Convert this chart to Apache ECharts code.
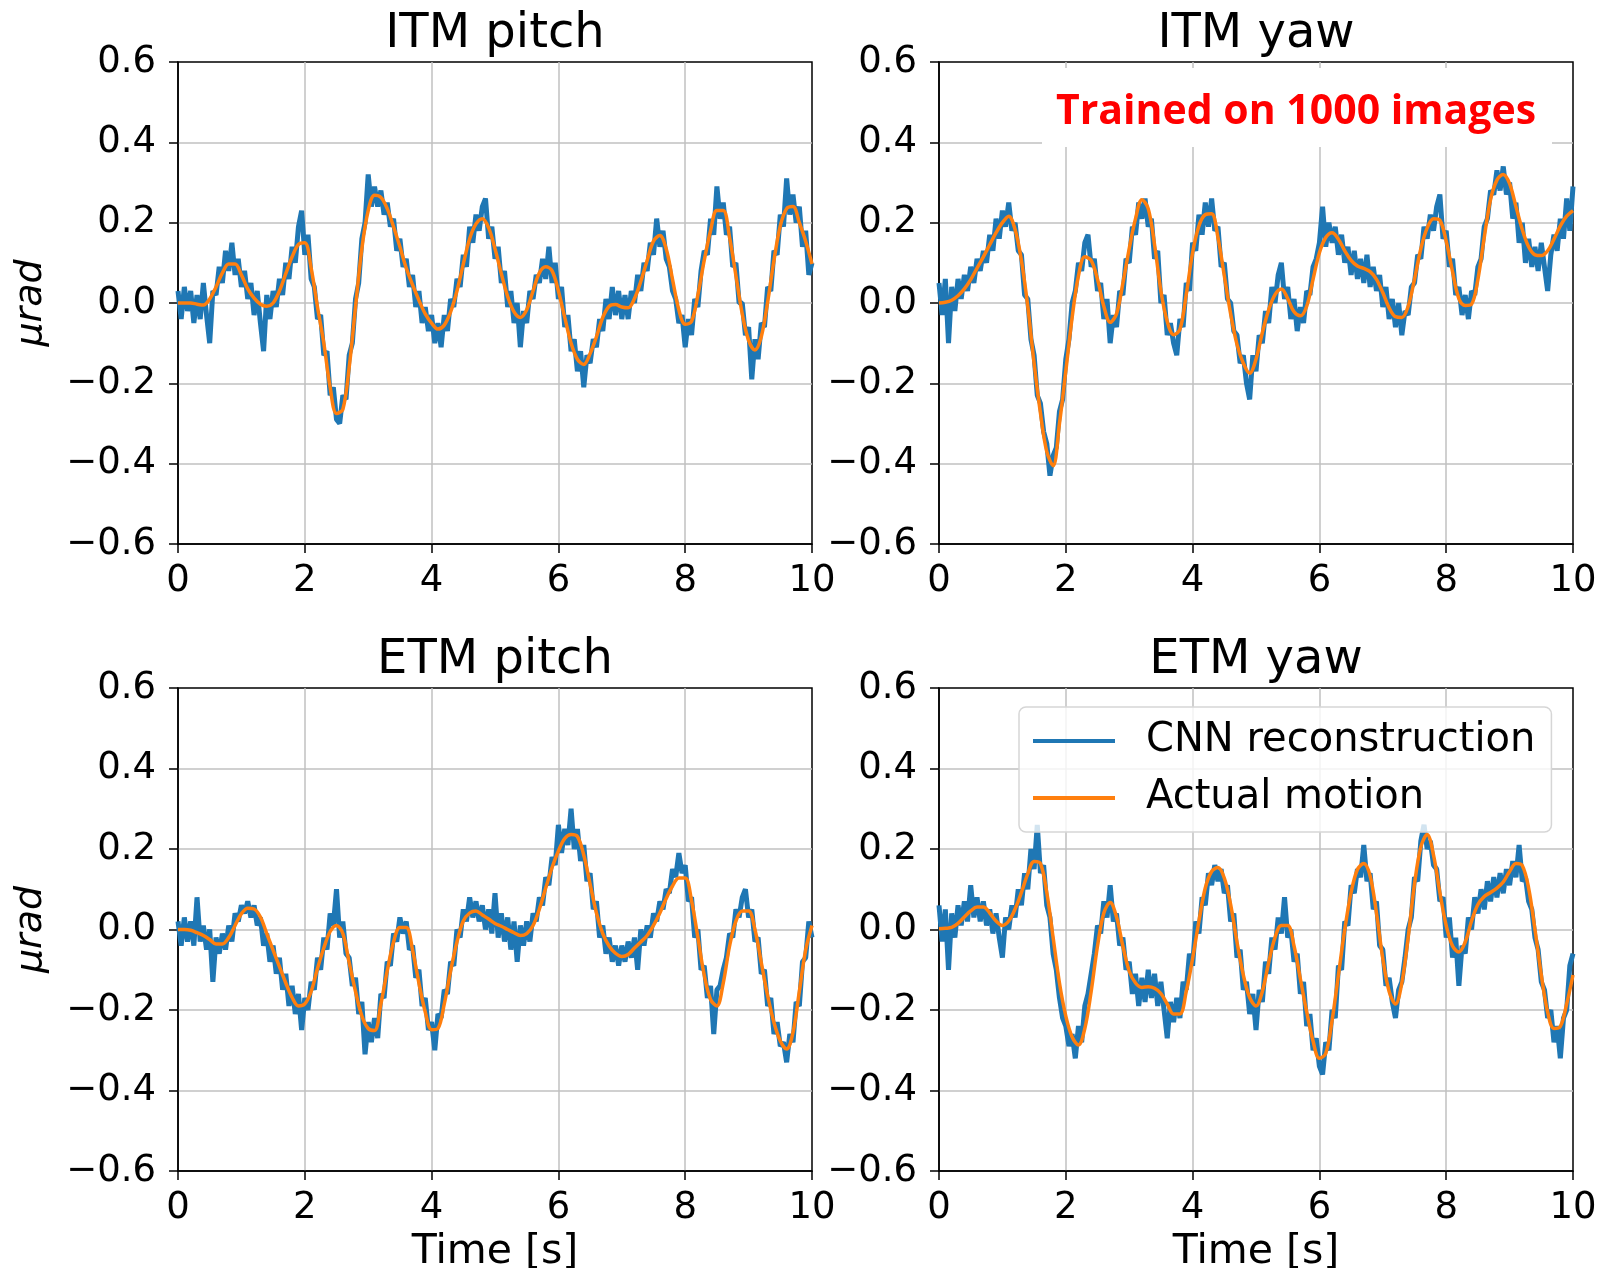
<!DOCTYPE html>
<html><head><meta charset="utf-8">
<script src="https://cdn.jsdelivr.net/npm/echarts@6/dist/echarts.min.js"></script>
<style>html,body{margin:0;padding:0;background:#fff}#c{width:1607px;height:1268px}</style>
</head><body><div id="c"></div>
<script>
// ---------- data ----------
const panelTitles = ['ITM pitch', 'ITM yaw', 'ETM pitch', 'ETM yaw'];
const seriesNames = ['CNN reconstruction', 'Actual motion'];
const yAxisName = 'μrad';
const xAxisName = 'Time [s]';
const annotationText = 'Trained on 1000 images';
const xTickValues = [0, 2, 4, 6, 8, 10];
const yTickLabels = ['\u22120.6', '\u22120.4', '\u22120.2', '0.0', '0.2', '0.4', '0.6'];
const actualStep = 0.1;   // s between samples of the actual motion
const cnnStep = 0.05;     // s between samples of the CNN reconstruction

const itmPitchActual = [0.000,0.000,0.000,-0.003,-0.005,0.010,0.040,0.075,0.097,0.097,
 0.070,0.035,0.012,-0.003,-0.008,0.000,0.030,0.073,0.115,0.146,
 0.150,0.087,-0.010,-0.100,-0.210,-0.275,-0.265,-0.160,-0.010,0.135,
 0.230,0.268,0.263,0.235,0.190,0.140,0.087,0.045,0.007,-0.027,
 -0.050,-0.065,-0.055,-0.022,0.030,0.097,0.160,0.197,0.210,0.187,
 0.135,0.073,0.016,-0.022,-0.036,-0.017,0.030,0.075,0.090,0.080,
 0.030,-0.036,-0.100,-0.140,-0.153,-0.126,-0.084,-0.036,-0.008,-0.004,
 -0.010,-0.012,0.011,0.054,0.106,0.154,0.168,0.135,0.059,-0.017,
 -0.053,-0.046,0.020,0.106,0.180,0.230,0.230,0.163,0.068,-0.027,
 -0.093,-0.117,-0.084,0.002,0.106,0.192,0.235,0.240,0.200,0.154,
 0.097];
const itmPitchCnn = [0.03,-0.04,0.04,-0.02,0.03,-0.05,0.02,-0.04,0.05,-0.03,-0.10,0.03,0.02,0.09,0.05,0.13,0.08,0.15,0.07,0.11,
 0.04,0.08,0.01,0.05,-0.03,0.03,-0.05,-0.12,0.02,-0.04,0.03,-0.01,0.06,0.02,0.10,0.06,0.14,0.10,0.19,0.23,
 0.12,0.17,0.06,0.04,-0.04,-0.03,-0.13,-0.12,-0.23,-0.21,-0.29,-0.30,-0.23,-0.24,-0.13,-0.10,0.01,0.05,0.16,0.20,
 0.32,0.24,0.29,0.24,0.28,0.22,0.25,0.19,0.21,0.13,0.16,0.09,0.11,0.04,0.07,-0.01,0.03,-0.05,-0.01,-0.07,
 -0.03,-0.10,-0.05,-0.11,-0.03,-0.07,0.01,-0.01,0.06,0.04,0.12,0.09,0.19,0.15,0.22,0.18,0.24,0.26,0.16,0.19,
 0.11,0.14,0.05,0.08,-0.01,0.03,-0.05,0.00,-0.11,-0.02,-0.05,0.03,0.01,0.07,0.05,0.11,0.06,0.14,0.05,0.10,
 0.01,0.04,-0.06,-0.03,-0.12,-0.09,-0.17,-0.12,-0.21,-0.13,-0.15,-0.09,-0.11,-0.04,-0.07,0.01,-0.04,0.04,-0.03,0.03,
 -0.04,0.02,-0.04,0.03,0.00,0.07,0.03,0.10,0.08,0.15,0.12,0.21,0.14,0.18,0.11,0.09,0.03,0.01,-0.05,-0.03,
 -0.11,-0.04,-0.08,0.01,-0.01,0.08,0.13,0.12,0.21,0.17,0.29,0.21,0.25,0.17,0.19,0.09,0.10,0.00,0.00,-0.08,
 -0.06,-0.19,-0.09,-0.14,-0.05,-0.06,0.04,0.03,0.13,0.12,0.22,0.19,0.31,0.22,0.27,0.20,0.24,0.14,0.18,0.07,
 0.10];

const itmYawActual = [0.000,0.002,0.007,0.018,0.035,0.058,0.087,0.115,0.145,0.175,
 0.200,0.216,0.183,0.106,-0.008,-0.150,-0.274,-0.370,-0.405,-0.300,
 -0.170,-0.036,0.068,0.115,0.106,0.059,-0.008,-0.048,-0.027,0.049,
 0.135,0.210,0.257,0.235,0.145,0.030,-0.046,-0.079,-0.066,0.021,
 0.125,0.192,0.220,0.222,0.163,0.068,-0.027,-0.103,-0.150,-0.175,
 -0.140,-0.074,-0.017,0.021,0.035,0.011,-0.022,-0.032,-0.008,0.059,
 0.125,0.163,0.175,0.159,0.130,0.106,0.092,0.086,0.078,0.059,
 0.026,-0.012,-0.034,-0.036,-0.008,0.059,0.135,0.187,0.210,0.206,
 0.154,0.078,0.011,-0.006,-0.003,0.059,0.163,0.258,0.306,0.320,
 0.297,0.240,0.183,0.140,0.120,0.118,0.130,0.159,0.192,0.216,
 0.230];
const itmYawCnn = [0.05,-0.03,0.06,-0.10,0.04,-0.02,0.06,0.01,0.07,0.03,0.09,0.05,0.11,0.08,0.13,0.10,0.17,0.13,0.21,0.16,
 0.23,0.19,0.25,0.18,0.20,0.13,0.12,0.02,0.01,-0.09,-0.13,-0.23,-0.25,-0.32,-0.35,-0.43,-0.38,-0.36,-0.27,-0.24,
 -0.14,-0.09,0.00,0.03,0.10,0.08,0.15,0.17,0.09,0.11,0.03,0.05,-0.04,0.01,-0.10,-0.03,-0.06,0.03,0.02,0.11,
 0.10,0.19,0.17,0.25,0.21,0.26,0.19,0.21,0.11,0.13,0.00,0.02,-0.08,-0.05,-0.10,-0.13,-0.04,-0.06,0.05,0.03,
 0.15,0.13,0.22,0.17,0.25,0.19,0.26,0.18,0.19,0.09,0.10,0.01,0.00,-0.07,-0.08,-0.15,-0.13,-0.20,-0.24,-0.13,
 -0.17,-0.08,-0.10,-0.02,-0.05,0.04,0.00,0.07,0.10,0.01,0.04,-0.04,0.01,-0.07,-0.01,-0.05,0.03,0.02,0.09,0.11,
 0.15,0.24,0.14,0.20,0.15,0.19,0.12,0.17,0.10,0.14,0.07,0.13,0.06,0.11,0.05,0.12,0.04,0.09,0.03,0.07,
 -0.01,0.04,-0.04,0.01,-0.06,0.00,-0.08,-0.02,-0.03,0.04,0.05,0.12,0.11,0.19,0.16,0.22,0.18,0.24,0.27,0.16,
 0.18,0.09,0.11,0.02,0.04,-0.03,0.02,-0.04,0.03,0.02,0.09,0.11,0.19,0.21,0.28,0.27,0.33,0.28,0.34,0.27,
 0.30,0.21,0.25,0.15,0.20,0.10,0.16,0.09,0.14,0.08,0.15,0.09,0.03,0.12,0.17,0.13,0.21,0.16,0.26,0.18,
 0.29];

const etmPitchActual = [0.000,0.000,-0.002,-0.008,-0.015,-0.025,-0.036,-0.036,-0.020,0.010,
 0.039,0.053,0.051,0.031,-0.010,-0.051,-0.092,-0.133,-0.169,-0.190,
 -0.185,-0.154,-0.097,-0.046,-0.005,0.010,-0.010,-0.082,-0.154,-0.215,
 -0.246,-0.251,-0.185,-0.103,-0.031,0.005,0.005,-0.051,-0.133,-0.205,
 -0.249,-0.246,-0.185,-0.103,-0.031,0.021,0.041,0.046,0.036,0.026,
 0.015,0.008,0.000,-0.008,-0.015,-0.010,0.010,0.051,0.103,0.154,
 0.195,0.226,0.236,0.231,0.185,0.113,0.041,-0.010,-0.041,-0.059,
 -0.067,-0.062,-0.046,-0.031,-0.015,0.010,0.041,0.077,0.108,0.128,
 0.128,0.072,-0.020,-0.113,-0.174,-0.190,-0.133,-0.041,0.021,0.046,
 0.046,0.000,-0.082,-0.164,-0.231,-0.277,-0.297,-0.256,-0.154,-0.051,
 0.010];
const etmPitchCnn = [0.02,-0.04,0.03,-0.03,0.02,-0.04,0.08,-0.03,0.01,-0.05,0.00,-0.13,-0.02,-0.06,-0.01,-0.05,0.01,-0.03,0.04,0.02,
 0.06,0.04,0.07,0.03,0.06,0.01,0.03,-0.04,-0.01,-0.08,-0.04,-0.11,-0.07,-0.15,-0.11,-0.19,-0.14,-0.21,-0.16,-0.25,
 -0.17,-0.20,-0.13,-0.15,-0.07,-0.10,-0.02,-0.05,0.04,0.01,0.10,-0.02,0.02,-0.06,-0.07,-0.14,-0.12,-0.21,-0.18,-0.31,
 -0.23,-0.28,-0.22,-0.27,-0.16,-0.17,-0.08,-0.09,-0.01,-0.03,0.03,-0.01,0.02,-0.05,-0.04,-0.12,-0.10,-0.19,-0.17,-0.25,
 -0.23,-0.30,-0.21,-0.22,-0.15,-0.16,-0.08,-0.09,0.00,-0.02,0.05,0.02,0.08,0.03,0.07,0.02,0.06,0.00,0.05,-0.01,
 0.09,-0.02,0.04,-0.03,0.03,-0.05,0.02,-0.08,0.01,-0.04,0.02,-0.03,0.04,0.02,0.08,0.06,0.13,0.11,0.18,0.16,
 0.26,0.19,0.25,0.21,0.30,0.20,0.25,0.17,0.21,0.12,0.14,0.05,0.07,-0.02,0.01,-0.06,-0.02,-0.08,-0.04,-0.09,
 -0.04,-0.08,-0.03,-0.07,-0.02,-0.10,0.00,-0.04,0.01,-0.02,0.04,0.02,0.07,0.05,0.10,0.09,0.15,0.13,0.19,0.14,
 0.16,0.07,0.08,-0.02,0.00,-0.10,-0.09,-0.17,-0.14,-0.26,-0.15,-0.14,-0.10,-0.07,-0.01,-0.02,0.05,0.03,0.08,0.10,
 0.03,0.05,-0.03,-0.02,-0.11,-0.10,-0.19,-0.17,-0.26,-0.23,-0.29,-0.28,-0.33,-0.26,-0.28,-0.18,-0.19,-0.08,-0.07,0.02,
 -0.02];

const etmYawActual = [0.002,0.003,0.005,0.015,0.031,0.046,0.056,0.056,0.041,0.021,
 0.010,0.021,0.051,0.092,0.138,0.169,0.164,0.092,-0.020,-0.133,
 -0.215,-0.267,-0.287,-0.246,-0.154,-0.041,0.041,0.067,0.031,-0.041,
 -0.103,-0.133,-0.144,-0.142,-0.146,-0.159,-0.185,-0.210,-0.210,-0.154,
 -0.072,0.021,0.103,0.144,0.154,0.128,0.062,-0.031,-0.113,-0.169,
 -0.190,-0.154,-0.082,-0.020,0.010,0.010,-0.041,-0.123,-0.205,-0.277,
 -0.320,-0.308,-0.226,-0.113,0.000,0.092,0.149,0.164,0.133,0.041,
 -0.072,-0.154,-0.185,-0.133,-0.020,0.113,0.205,0.236,0.185,0.092,
 0.010,-0.041,-0.056,-0.031,0.021,0.062,0.082,0.092,0.103,0.118,
 0.144,0.164,0.159,0.103,0.000,-0.113,-0.205,-0.246,-0.241,-0.185,
 -0.113];
const etmYawCnn = [0.06,-0.03,0.05,-0.10,0.04,-0.02,0.06,0.01,0.07,0.02,0.11,0.03,0.08,0.02,0.07,0.01,0.05,-0.01,0.04,-0.02,
 -0.07,0.03,0.00,0.06,0.03,0.10,0.06,0.14,0.10,0.20,0.15,0.26,0.14,0.16,0.06,0.03,-0.06,-0.10,-0.17,-0.22,
 -0.24,-0.29,-0.26,-0.32,-0.24,-0.28,-0.19,-0.16,-0.11,-0.06,0.01,-0.01,0.07,0.03,0.11,0.02,0.04,-0.04,-0.02,-0.10,
 -0.08,-0.16,-0.11,-0.19,-0.12,-0.18,-0.10,-0.17,-0.11,-0.19,-0.13,-0.20,-0.27,-0.18,-0.23,-0.17,-0.22,-0.13,-0.15,-0.06,
 -0.09,0.02,-0.01,0.08,0.06,0.14,0.11,0.16,0.12,0.15,0.09,0.11,0.02,0.04,-0.07,-0.05,-0.15,-0.13,-0.21,-0.16,
 -0.25,-0.15,-0.18,-0.08,-0.11,-0.02,-0.05,0.03,-0.01,0.08,-0.02,0.00,-0.08,-0.06,-0.16,-0.13,-0.24,-0.21,-0.30,-0.27,
 -0.34,-0.36,-0.28,-0.30,-0.20,-0.22,-0.09,-0.10,0.02,0.01,0.11,0.09,0.15,0.13,0.21,0.12,0.14,0.05,0.07,-0.04,
 -0.05,-0.14,-0.12,-0.18,-0.22,-0.15,-0.13,-0.07,0.00,0.03,0.13,0.12,0.22,0.26,0.20,0.22,0.16,0.15,0.07,0.08,
 -0.02,0.03,-0.07,-0.02,-0.14,-0.04,-0.06,0.03,0.00,0.08,0.04,0.10,0.05,0.12,0.07,0.13,0.08,0.14,0.09,0.15,
 0.11,0.17,0.13,0.21,0.12,0.13,0.07,0.05,-0.02,-0.05,-0.13,-0.15,-0.22,-0.20,-0.28,-0.24,-0.32,-0.22,-0.20,-0.09,
 -0.06];

// ---------- build ----------
const panels = [
  {cnn: itmPitchCnn, actual: itmPitchActual},
  {cnn: itmYawCnn, actual: itmYawActual},
  {cnn: etmPitchCnn, actual: etmPitchActual},
  {cnn: etmYawCnn, actual: etmYawActual}
];
function withTime(values, step) {
  return values.map((v, i) => [+(i * step).toFixed(2), v]);
}

const FONT = '"DejaVu Sans", sans-serif';
const BLUE = '#1f77b4', ORANGE = '#ff7f0e';
const gridBoxes = [
  {left: 178, top: 62, width: 634, height: 482},
  {left: 939, top: 62, width: 634, height: 482},
  {left: 178, top: 688, width: 634, height: 483},
  {left: 939, top: 688, width: 634, height: 483}
];
const titleCenters = [[495, 11], [1256, 11], [495, 637], [1256, 637]];

const option = {
  animation: false,
  backgroundColor: '#fff',
  title: panelTitles.map((t, i) => ({
    text: t, left: titleCenters[i][0], top: titleCenters[i][1], textAlign: 'center', padding: 0,
    textStyle: {fontFamily: FONT, fontSize: 48, fontWeight: 'normal', color: '#000'}
  })),
  legend: {
    data: seriesNames, orient: 'vertical', left: 1019, top: 707,
    padding: [14, 16, 14, 14], itemWidth: 82, itemHeight: 4, icon: 'rect', itemGap: 17,
    backgroundColor: 'rgba(255,255,255,0.8)', borderColor: '#d6d6d6', borderWidth: 1.5, borderRadius: 7,
    selectedMode: false,
    textStyle: {fontFamily: FONT, fontSize: 40, color: '#000', padding: [0, 0, 0, 26]}
  },
  grid: gridBoxes.map(g => Object.assign({show: true, borderColor: '#000', borderWidth: 1.5,
    containLabel: false, outerBoundsMode: 'none'}, g)),
  xAxis: gridBoxes.map((g, i) => ({
    type: 'value', gridIndex: i, min: 0, max: 10, interval: 2,
    name: i >= 2 ? xAxisName : '', nameLocation: 'middle', nameGap: 61,
    nameTextStyle: {fontFamily: FONT, fontSize: 41, color: '#000'},
    axisLine: {show: true, onZero: false, lineStyle: {color: '#000', width: 1.5}},
    axisTick: {show: true, inside: false, length: 9, lineStyle: {color: '#000', width: 1.5}},
    axisLabel: {fontFamily: FONT, fontSize: 37, color: '#000', margin: 19,
      formatter: v => String(xTickValues[xTickValues.indexOf(Math.round(v))])},
    splitLine: {show: true, showMinLine: false, showMaxLine: false, lineStyle: {color: '#c0c0c0', width: 1.5}}
  })),
  yAxis: gridBoxes.map((g, i) => ({
    type: 'value', gridIndex: i, min: -0.6, max: 0.6, interval: 0.2,
    name: (i % 2 === 0) ? yAxisName : '', nameLocation: 'middle', nameGap: 128, nameRotate: 90,
    nameTextStyle: {fontFamily: FONT, fontSize: 38, fontStyle: 'italic', color: '#000'},
    axisLine: {show: true, onZero: false, lineStyle: {color: '#000', width: 1.5}},
    axisTick: {show: true, inside: false, length: 9, lineStyle: {color: '#000', width: 1.5}},
    axisLabel: {fontFamily: FONT, fontSize: 37, color: '#000', margin: 22,
      formatter: v => yTickLabels[Math.round((v + 0.6) / 0.2)]},
    splitLine: {show: true, showMinLine: false, showMaxLine: false, lineStyle: {color: '#c0c0c0', width: 1.5}}
  })),
  graphic: [
    {type: 'rect', z: 1, shape: {x: 1042, y: 68, width: 510, height: 79}, style: {fill: '#fff'}},
    {type: 'text', z: 10, x: 1296, y: 112,
     style: {text: annotationText, fill: '#ff0000', font: 'bold 41px "Open Sans", sans-serif',
             textAlign: 'center', textVerticalAlign: 'middle'}}
  ],
  series: []
};

panels.forEach((p, i) => {
  option.series.push({
    type: 'line', name: seriesNames[0], xAxisIndex: i, yAxisIndex: i,
    data: withTime(p.cnn, cnnStep), symbol: 'none', showSymbol: false,
    lineStyle: {color: BLUE, width: 5, join: 'bevel'}, itemStyle: {color: BLUE}, z: 2
  });
  option.series.push({
    type: 'line', name: seriesNames[1], xAxisIndex: i, yAxisIndex: i,
    data: withTime(p.actual, actualStep), symbol: 'none', showSymbol: false, smooth: 0.35,
    lineStyle: {color: ORANGE, width: 3.5}, itemStyle: {color: ORANGE}, z: 3
  });
});

const chart = echarts.init(document.getElementById('c'), null, {renderer: 'canvas'});
chart.setOption(option);
</script>
</body></html>
